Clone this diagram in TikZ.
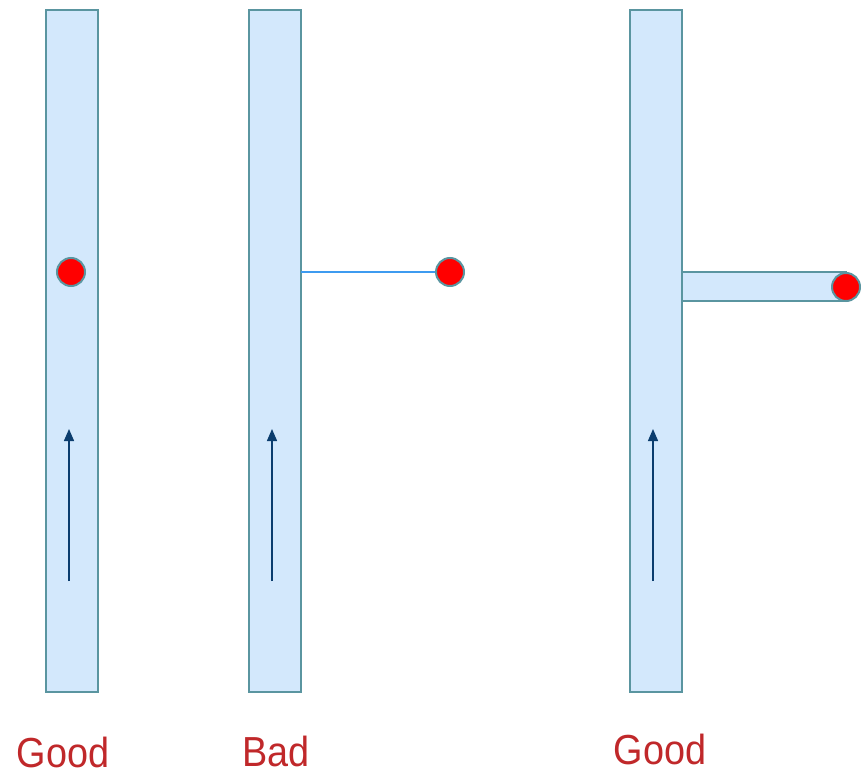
\documentclass[tikz,border=0pt]{standalone}
\usepackage{fontspec}
\setmainfont{Liberation Sans}[FakeStretch=0.9]
\usetikzlibrary{arrows.meta}
\definecolor{pipefill}{HTML}{D3E8FC}
\definecolor{pipeedge}{HTML}{5A95A0}
\definecolor{dotred}{HTML}{FF0000}
\definecolor{arrowblue}{HTML}{0B3D6E}
\definecolor{thinline}{HTML}{3D9BF0}
\definecolor{labelred}{HTML}{C0282A}
\begin{document}
\begin{tikzpicture}[x=1pt,y=-1pt,
  pipe/.style={draw=pipeedge,fill=pipefill,line width=2.5pt},
  dot/.style={circle,draw=pipeedge,fill=dotred,line width=2pt,minimum size=28pt,inner sep=0pt},
  flow/.style={draw=arrowblue,line width=1.4pt,-{Triangle[length=12pt,width=10pt]}},
  lbl/.style={text=labelred,font=\fontsize{42}{42}\selectfont,inner sep=0pt}]
\useasboundingbox (0,0) rectangle (861,775);
% pipes
\draw[pipe] (46,10) rectangle (98,692);
\draw[pipe] (249,10) rectangle (301,692);
\draw[pipe] (682,272) rectangle (846,301);
\draw[pipe] (630,10) rectangle (682,692);
% dots
\node[dot] (d1) at (71,272) {};
\coordinate (b2) at (301,272);
\node[dot] (d2) at (450,272) {};
\draw[thinline,line width=1.2pt] (b2) -- (d2);
\node[dot] (d3) at (846,287) {};
% arrows
\coordinate (a1s) at (69,581); \coordinate (a1e) at (69,429);
\coordinate (a2s) at (272,581); \coordinate (a2e) at (272,429);
\coordinate (a3s) at (653,581); \coordinate (a3e) at (653,429);
\draw[flow] (a1s) -- (a1e);
\draw[flow] (a2s) -- (a2e);
\draw[flow] (a3s) -- (a3e);
% labels
\node[lbl,anchor=base] (l1) at (63,767) {Good};
\node[lbl,anchor=base] (l2) at (276,766) {Bad};
\node[lbl,anchor=base] (l3) at (660,764) {Good};
\end{tikzpicture}
\end{document}
